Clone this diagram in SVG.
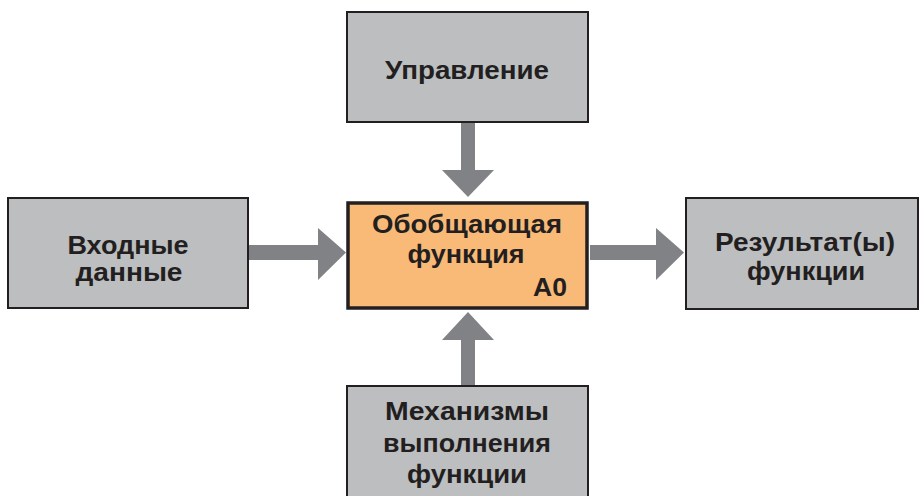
<svg xmlns="http://www.w3.org/2000/svg" width="920" height="496" viewBox="0 0 920 496">
<style>
.box{fill:#bcbec0;stroke:#231f20;stroke-width:2}
.main{fill:#f9b977;stroke:#231f20;stroke-width:3.5}
.t{font-family:"Liberation Sans",Arial,sans-serif;font-weight:bold;font-size:25px;fill:#231f20;text-anchor:middle}
.arr{fill:#808285}
</style>
<rect width="920" height="496" fill="#ffffff"/>
<g id="connectors">
<polygon class="arr" points="461,122 475,122 475,170 494,170 468,197 442,170 461,170"/>
<polygon class="arr" points="249,245 318,245 318,228 346,252.5 318,280 318,260 249,260"/>
<polygon class="arr" points="590,245 656,245 656,228 684,252.5 656,280 656,260 590,260"/>
<polygon class="arr" points="461,385 475,385 475,340 494,340 468,312 442,340 461,340"/>
</g>
<g id="control">
<rect class="box" x="347" y="12" width="241" height="110"/>
<text class="t" x="467" y="79" textLength="164" lengthAdjust="spacingAndGlyphs">Управление</text>
</g>
<g id="input">
<rect class="box" x="8" y="198" width="240" height="110"/>
<text class="t" x="128" y="254" textLength="121" lengthAdjust="spacingAndGlyphs">Входные</text>
<text class="t" x="129" y="281" textLength="107" lengthAdjust="spacingAndGlyphs">данные</text>
</g>
<g id="function">
<rect class="main" x="348" y="203" width="239" height="105"/>
<text class="t" x="467" y="233" textLength="190" lengthAdjust="spacingAndGlyphs">Обобщающая</text>
<text class="t" x="466" y="263" textLength="117" lengthAdjust="spacingAndGlyphs">функция</text>
<text class="t" x="550" y="296" textLength="34" lengthAdjust="spacingAndGlyphs">А0</text>
</g>
<g id="output">
<rect class="box" x="686" y="198" width="232" height="111"/>
<text class="t" x="805" y="251" textLength="180" lengthAdjust="spacingAndGlyphs">Результат(ы)</text>
<text class="t" x="806" y="280" textLength="118" lengthAdjust="spacingAndGlyphs">функции</text>
</g>
<g id="mechanism">
<rect class="box" x="347" y="386" width="241" height="120"/>
<text class="t" x="467" y="420" textLength="164" lengthAdjust="spacingAndGlyphs">Механизмы</text>
<text class="t" x="467" y="452" textLength="168" lengthAdjust="spacingAndGlyphs">выполнения</text>
<text class="t" x="467" y="483" textLength="120" lengthAdjust="spacingAndGlyphs">функции</text>
</g>
</svg>
